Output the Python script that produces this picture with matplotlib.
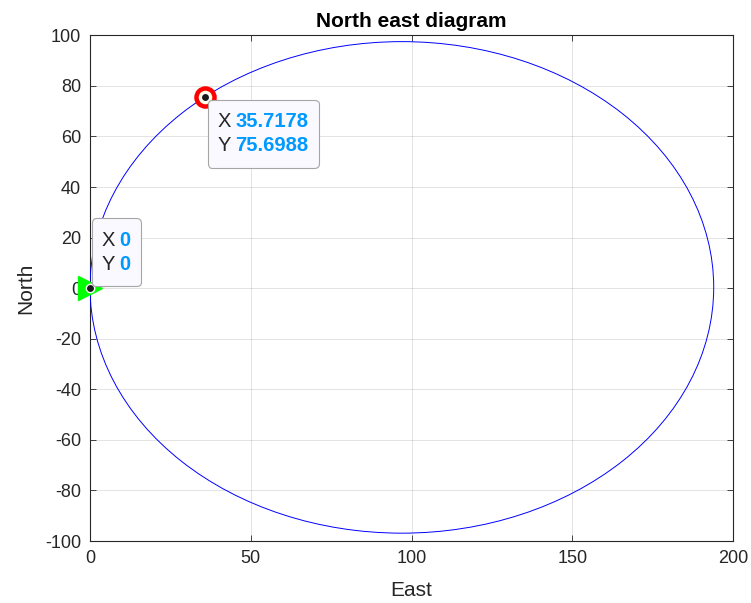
import numpy as np
import matplotlib
matplotlib.use("Agg")
import matplotlib.pyplot as plt
from matplotlib.patches import Ellipse
from matplotlib.offsetbox import TextArea, HPacker, VPacker, AnnotationBbox, DrawingArea

plt.rcParams['font.family'] = ['Liberation Sans', 'DejaVu Sans']
plt.rcParams['axes.unicode_minus'] = False

# turning path (roughly a circle)
center_east = 97.0
center_north = 0.3
radius_east = 97.0
radius_north = 97.2

# start and end markers (values from the data tips)
start_east, start_north = 0.0, 0.0
end_east, end_north = 35.7178, 75.6988

x_ticks = [0, 50, 100, 150, 200]
y_ticks = [-100, -80, -60, -40, -20, 0, 20, 40, 60, 80, 100]

dark = (0.15, 0.15, 0.15)
tip_blue = (0.0, 0.6, 1.0)

fig = plt.figure(figsize=(7.51, 6.03), dpi=100)
ax = fig.add_axes([90 / 751, 1 - 541 / 603, (733 - 90) / 751, (541 - 35.3) / 603])

path = Ellipse((center_east, center_north), 2 * radius_east, 2 * radius_north,
               fill=False, edgecolor='blue', linewidth=0.7, zorder=3)
ax.add_patch(path)

ax.plot(start_east, start_north, '>', color=(0, 1, 0), markersize=17,
        markeredgecolor=(0, 1, 0), zorder=4, clip_on=False)
ax.plot(end_east, end_north, 'o', markerfacecolor=(1, 1, 0.9), markeredgecolor='red',
        markersize=13, markeredgewidth=3.2, zorder=4)
# data tip dots
for px, py in [(start_east, start_north), (end_east, end_north)]:
    ax.plot(px, py, 'o', color=(0.1, 0.1, 0.1), markersize=6, markeredgecolor='white',
            markeredgewidth=1.0, zorder=5, clip_on=False)


def data_tip(px, py, dx, dy, align):
    rows = []
    for name, val in [("X", px), ("Y", py)]:
        if val == 0:
            txt = "0"
        else:
            txt = f"{val:.4f}"
        a = TextArea(name, textprops=dict(color=dark, fontsize=14.5))
        b = TextArea(txt, textprops=dict(color=tip_blue, fontsize=14.5, fontweight='bold'))
        rows.append(HPacker(children=[a, b], align='baseline', pad=0, sep=3))
    inner = VPacker(children=rows, align='left', pad=0, sep=4)
    # a bit of extra room above and below, like the matlab data tip
    box = VPacker(children=[DrawingArea(1, 1.5), inner, DrawingArea(1, 1.5)],
                  align='left', pad=0, sep=0)
    ab = AnnotationBbox(box, (px, py), xybox=(dx, dy), xycoords='data',
                        boxcoords='offset points', box_alignment=align,
                        frameon=True, zorder=6,
                        bboxprops=dict(boxstyle='round,pad=0.72,rounding_size=0.3',
                                       facecolor=(0.975, 0.975, 1.0), edgecolor=(0.65, 0.65, 0.65),
                                       linewidth=0.8))
    ab.set_clip_on(False)
    ax.add_artist(ab)


data_tip(start_east, start_north, 8.6, 8.6, (0, 0))
data_tip(end_east, end_north, 9.4, -9.4, (0, 1))

ax.set_xlim(0, 200)
ax.set_ylim(-100, 100)
ax.set_xticks(x_ticks)
ax.set_yticks(y_ticks)
ax.grid(True, color=dark, alpha=0.15, linewidth=0.6)
ax.set_axisbelow(True)
ax.tick_params(direction='in', length=4.5, width=0.6, colors=dark, labelsize=13,
               top=True, right=True, labeltop=False, labelright=False, pad=6.5)
for s in ax.spines.values():
    s.set_color(dark)
    s.set_linewidth(0.8)

ax.set_xlabel("East", fontsize=15, color=dark, labelpad=10)
ax.set_ylabel("North", fontsize=15, color=dark, labelpad=7)
ax.set_title("North east diagram", fontsize=15, fontweight='bold', pad=6)

fig.savefig("out.png", dpi=100)
